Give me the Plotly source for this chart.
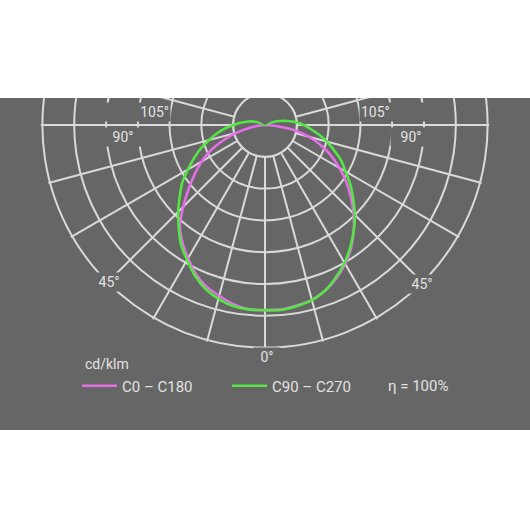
import math
import plotly.graph_objects as go

# luminous intensity in cd/klm, gamma measured from nadir (deg)
gamma_c0 = list(range(0, 95, 5))
c0 = [291, 291, 288, 285, 277, 266, 252, 236, 217, 197, 176, 156, 135, 115, 94, 72, 47, 17, 0]
c180 = [291, 291, 286, 278, 270, 258, 242, 226, 208, 182, 157, 135, 115, 94, 69, 46, 24, 8, 0]

gamma_c90 = list(range(0, 125, 5))
c90 = [292, 292, 289, 285, 277, 264, 250, 234, 217, 200, 181, 164, 146, 132, 115, 101, 86, 72, 61, 49,
       36, 24, 14, 6, 0]
c270 = [291, 291, 289, 283, 274, 261, 245, 230, 211, 193, 175, 159, 140, 123, 107, 91, 77, 63, 49, 39,
        30, 22, 14, 6, 0]

ring_values = [50, 100, 150, 200, 250, 300, 350]
spoke_angles = [0, 15, 30, 45, 60, 75, 90, 105]
angle_labels = ["105°", "90°", "45°", "0°"]
series_names = ["C0 – C180", "C90 – C270"]

W = H = 530
CX, CY = 265, 125           # pole of the diagram, px
PX_PER_UNIT = 31.8 / 50     # one ring = 50 cd/klm
RMAX = 352.5                # a bit past the last ring so its grid circle is kept
SECTOR = [-212, 32]

BG = "#666666"
GRID = "#dadada"
TEXT = "#e2e2e2"
MAGENTA = "#e36ee6"
GREEN = "#55e645"
FONT = "Roboto"


def px_x(v):
    return v / W


def px_y(v):
    return 1 - v / H


r_total = RMAX * PX_PER_UNIT
top_ext = math.sin(math.radians(SECTOR[1]))
big_dom = dict(x=[px_x(CX - r_total), px_x(CX + r_total)],
               y=[px_y(CY + r_total), px_y(CY - r_total * top_ext)])
r1 = ring_values[0] * PX_PER_UNIT
ring_dom = dict(x=[px_x(CX - r1), px_x(CX + r1)], y=[px_y(CY + r1), px_y(CY - r1)])

fig = go.Figure()

# empty traces so that the grid-only subplots are laid out
fig.add_trace(go.Scatterpolar(r=[], theta=[], subplot="polar", showlegend=False))
fig.add_trace(go.Scatterpolar(r=[], theta=[], subplot="polar2", showlegend=False))

curves = [
    (series_names[0], gamma_c0, c0, c180, MAGENTA),
    (series_names[1], gamma_c90, c90, c270, GREEN),
]
for name, g, right, left, col in curves:
    theta = [-a for a in reversed(g)] + g[1:]
    r = list(reversed(left)) + right[1:]
    fig.add_trace(go.Scatterpolar(
        r=r, theta=theta, mode="lines", name=name, subplot="polar3",
        line=dict(color=col, width=2.6, shape="spline", smoothing=0.8),
        hoverinfo="skip",
    ))

fig.update_layout(
    width=W, height=H,
    margin=dict(l=0, r=0, t=0, b=0),
    paper_bgcolor="white",
    plot_bgcolor="rgba(0,0,0,0)",
    font=dict(family=FONT, color=TEXT, size=14),
    # grid: rings and spokes
    polar=dict(
        domain=big_dom, sector=SECTOR, bgcolor="rgba(0,0,0,0)",
        radialaxis=dict(range=[0, RMAX], tickmode="array", tickvals=ring_values,
                        showgrid=True, gridcolor=GRID, gridwidth=2, showline=False,
                        showticklabels=False, ticks=""),
        angularaxis=dict(rotation=-90, direction="counterclockwise", tickmode="array",
                         tickvals=[-a for a in spoke_angles[:0:-1]] + spoke_angles,
                         showgrid=True, gridcolor=GRID, gridwidth=2, showline=False,
                         showticklabels=False, ticks=""),
    ),
    # innermost circle, drawn whole and filled so the spokes stop at it
    polar2=dict(
        domain=ring_dom, bgcolor=BG,
        radialaxis=dict(visible=False),
        angularaxis=dict(showline=True, linecolor=GRID, linewidth=2, showgrid=False,
                         showticklabels=False, ticks=""),
    ),
    # curves, radial scale starting at the pole
    polar3=dict(
        domain=big_dom, sector=SECTOR, bgcolor="rgba(0,0,0,0)",
        radialaxis=dict(range=[0, RMAX], visible=False),
        angularaxis=dict(rotation=-90, direction="counterclockwise", visible=False),
    ),
    legend=dict(orientation="h", x=px_x(77), xanchor="left", y=px_y(386), yanchor="middle",
                bgcolor="rgba(0,0,0,0)", font=dict(size=15, color=TEXT),
                entrywidth=100, entrywidthmode="pixels", itemwidth=35),
    shapes=[
        dict(type="rect", xref="paper", yref="paper", x0=0, x1=1, y0=px_y(430), y1=px_y(98),
             fillcolor=BG, line=dict(width=0), layer="below"),
        dict(type="rect", xref="paper", yref="paper", x0=0, x1=1, y0=px_y(98), y1=1.01,
             fillcolor="white", line=dict(width=0), layer="above"),
    ],
)

# angle labels (gray boxes break the grid like in the source)
label_spots = [
    (angle_labels[0], 136, 112, 66, "right"),
    (angle_labels[0], 394, 112, 66, "left"),
    (angle_labels[1], 123, 137, 38, "center"),
    (angle_labels[1], 411, 137, 38, "center"),
    (angle_labels[2], 109, 282, 26, "center"),
    (angle_labels[2], 422, 284, 26, "center"),
    (angle_labels[3], 267, 357, 24, "center"),
]
for txt, x, y, w, al in label_spots:
    fig.add_annotation(text=txt, x=px_x(x), y=px_y(y), xref="paper", yref="paper",
                       xanchor="center", yanchor="middle", showarrow=False, width=w, align=al,
                       bgcolor=BG, borderpad=1, font=dict(size=14, color=TEXT))

fig.add_annotation(text="cd/klm", x=px_x(83), y=px_y(364), xref="paper", yref="paper",
                   xanchor="left", yanchor="middle", showarrow=False, font=dict(size=14, color=TEXT))
fig.add_annotation(text="η = 100%", x=px_x(386), y=px_y(386), xref="paper", yref="paper",
                   xanchor="left", yanchor="middle", showarrow=False, font=dict(size=15, color=TEXT))

fig.write_html("out.html", config={"displayModeBar": False},
               post_script="document.body.style.margin = '0';")
